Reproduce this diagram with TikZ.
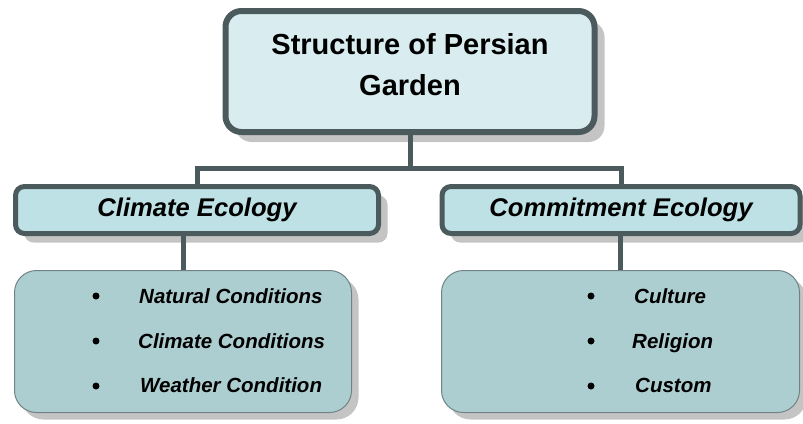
\documentclass[tikz,border=0pt]{standalone}
\usepackage{fontspec}
\setmainfont{Liberation Sans}
\usetikzlibrary{shadows}
\definecolor{edge}{HTML}{4B5A5C}
\definecolor{topfill}{HTML}{D9EDF0}
\definecolor{midfill}{HTML}{BDE1E4}
\definecolor{lowfill}{HTML}{ADCED1}
\definecolor{lowedge}{HTML}{6F8385}
\definecolor{shade}{HTML}{C4C4C4}
\begin{document}
\begin{tikzpicture}[x=1pt,y=-1pt,
  topbox/.style={draw=edge,line width=6pt,fill=topfill,rounded corners=16pt,
    minimum width=369pt,minimum height=121pt,align=center,text depth=14pt,
    font=\bfseries\fontsize{29}{41}\selectfont,
    drop shadow={shadow xshift=10pt,shadow yshift=-10pt,fill=shade,opacity=1}},
  midbox/.style={draw=edge,line width=5pt,fill=midfill,rounded corners=9pt,
    minimum height=47pt,font=\bfseries\itshape\fontsize{25.6}{30}\selectfont,
    drop shadow={shadow xshift=9pt,shadow yshift=-9pt,fill=shade,opacity=1}},
  lowbox/.style={draw=lowedge,line width=1pt,fill=lowfill,rounded corners=22pt,
    minimum height=142pt,
    drop shadow={shadow xshift=7pt,shadow yshift=-7pt,fill=shade,opacity=1}},
  link/.style={draw=edge,line width=5pt},
  item/.style={anchor=base west,inner sep=0pt,font=\bfseries\itshape\fontsize{20.5}{24}\selectfont},
  dot/.style={circle,fill=black,minimum size=7pt,inner sep=0pt}]
\useasboundingbox (0,0) rectangle (803,423);
\node[topbox] (top) at (410,71.5) {Structure of Persian\\Garden};
\node[midbox,minimum width=363pt] (clim) at (197,210) {Climate Ecology};
\node[midbox,minimum width=358pt] (comm) at (621,210) {Commitment Ecology};
\node[lowbox,minimum width=337pt] (climlist) at (183,341.5) {};
\node[lowbox,minimum width=358pt] (commlist) at (620.5,341.5) {};
\coordinate (fork) at (410,168);
\draw[link] (top) -- (fork) -| (clim);
\draw[link] (fork) -| (comm);
\draw[link] (climlist.north) -- (climlist.north |- clim.south);
\draw[link] (commlist.north) -- (commlist.north |- comm.south);
\node[item] (natcond) at (139,303) {Natural Conditions};
\node[item] (climcond) at (138,348) {Climate Conditions};
\node[item] (weathcond) at (140,392.5) {Weather Condition};
\node[item] (culture) at (634,303) {Culture};
\node[item] (religion) at (632,348) {Religion};
\node[item] (custom) at (635,392.5) {Custom};
\foreach \y/\n in {296/1,341/2,386/3} {
  \node[dot] (ldot\n) at (96,\y) {};
  \node[dot] (rdot\n) at (591,\y) {};
}
\end{tikzpicture}
\end{document}
